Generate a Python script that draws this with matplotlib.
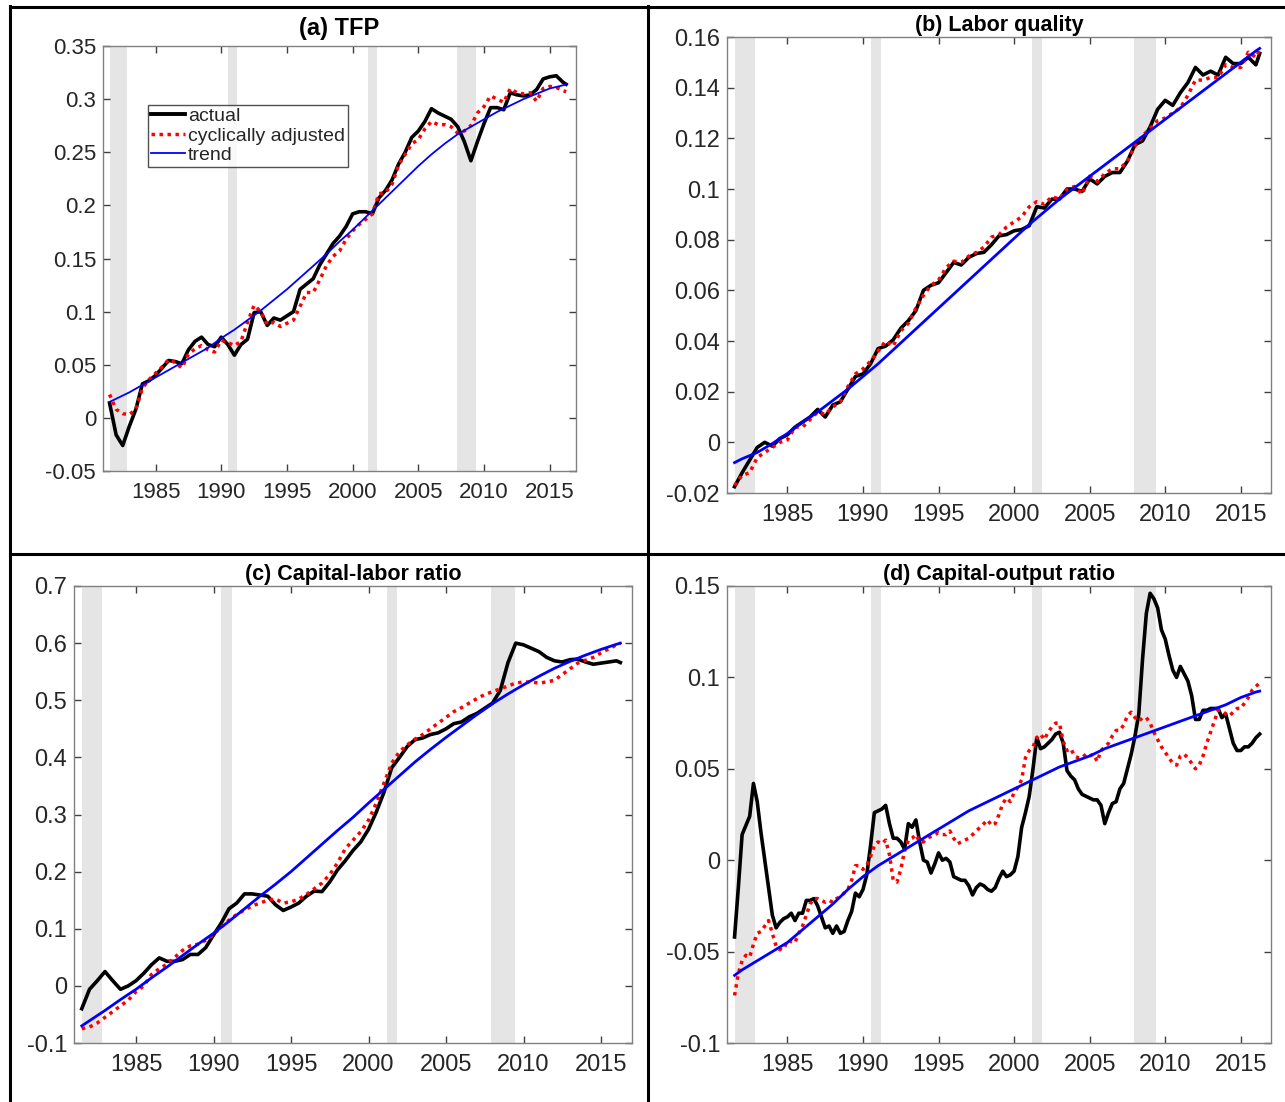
import numpy as np
import matplotlib
matplotlib.use("Agg")
import matplotlib.pyplot as plt
from matplotlib.lines import Line2D
from matplotlib.ticker import FuncFormatter

plt.rcParams["font.family"] = ["Liberation Sans", "DejaVu Sans"]

# semi-annual grid 1981.5 .. 2016.0 plus last obs 2016.25
half_years = np.append(np.arange(1981.5, 2016.01, 0.5), 2016.25)
quarters = np.arange(1981.5, 2016.26, 0.25)
trend_years = np.concatenate([[1981.5], np.arange(1982, 2017), [2016.25]])

recessions = [(1981.5, 1982.83), (1990.5, 1991.17), (2001.17, 2001.83), (2007.92, 2009.42)]

# (a) TFP
tfp_actual = [
    0.014, -0.016, -0.026, -0.008, 0.008, 0.032, 0.035, 0.040, 0.047, 0.054,
    0.053, 0.051, 0.064, 0.072, 0.076, 0.069, 0.067, 0.076, 0.069, 0.059,
    0.069, 0.074, 0.099, 0.100, 0.087, 0.094, 0.092, 0.096, 0.100, 0.121,
    0.126, 0.131, 0.144, 0.154, 0.164, 0.171, 0.180, 0.192, 0.194, 0.194,
    0.192, 0.207, 0.214, 0.224, 0.239, 0.250, 0.264, 0.270, 0.279, 0.291,
    0.287, 0.284, 0.281, 0.274, 0.260, 0.242, 0.260, 0.277, 0.292, 0.292,
    0.290, 0.306, 0.304, 0.303, 0.304, 0.309, 0.319, 0.321, 0.322, 0.316,
    0.314,
]
tfp_adjusted = [
    0.022, 0.008, 0.004, 0.003, 0.008, 0.028, 0.036, 0.042, 0.048, 0.055,
    0.052, 0.047, 0.060, 0.065, 0.068, 0.064, 0.062, 0.073, 0.071, 0.068,
    0.072, 0.090, 0.106, 0.100, 0.088, 0.090, 0.086, 0.089, 0.092, 0.105,
    0.118, 0.118, 0.130, 0.143, 0.152, 0.157, 0.168, 0.176, 0.182, 0.187,
    0.192, 0.211, 0.212, 0.220, 0.238, 0.248, 0.258, 0.262, 0.272, 0.279,
    0.276, 0.276, 0.274, 0.268, 0.270, 0.275, 0.287, 0.293, 0.303, 0.300,
    0.297, 0.310, 0.306, 0.305, 0.306, 0.298, 0.310, 0.312, 0.311, 0.308,
    0.307,
]
tfp_trend = [
    0.015, 0.018, 0.024, 0.031, 0.038, 0.045, 0.052, 0.059, 0.066, 0.075,
    0.083, 0.092, 0.101, 0.111, 0.121, 0.132, 0.143, 0.154, 0.166, 0.177,
    0.189, 0.201, 0.213, 0.225, 0.237, 0.248, 0.258, 0.267, 0.274, 0.281,
    0.288, 0.294, 0.300, 0.305, 0.310, 0.313, 0.314,
]

# (b) Labor quality
labor_actual = [
    -0.0175, -0.012, -0.007, -0.002, 0.000, -0.0015, 0.0015, 0.003, 0.006, 0.008,
    0.010, 0.013, 0.010, 0.0147, 0.016, 0.021, 0.026, 0.027, 0.031, 0.037,
    0.038, 0.0405, 0.045, 0.048, 0.052, 0.060, 0.062, 0.063, 0.067, 0.071,
    0.070, 0.073, 0.0745, 0.075, 0.078, 0.0815, 0.082, 0.0835, 0.084, 0.0855,
    0.093, 0.0925, 0.096, 0.096, 0.100, 0.100, 0.099, 0.104, 0.102, 0.105,
    0.1065, 0.1065, 0.111, 0.1175, 0.119, 0.1245, 0.1315, 0.135, 0.133, 0.138,
    0.142, 0.148, 0.145, 0.1465, 0.145, 0.152, 0.1495, 0.1495, 0.152, 0.149,
    0.1535,
]
labor_adjusted = [
    -0.017, -0.013, -0.012, -0.006, -0.004, -0.002, 0.000, 0.001, 0.006, 0.006,
    0.009, 0.012, 0.011, 0.014, 0.016, 0.022, 0.027, 0.029, 0.032, 0.036,
    0.040, 0.038, 0.044, 0.047, 0.053, 0.058, 0.062, 0.064, 0.069, 0.0715,
    0.071, 0.0735, 0.075, 0.077, 0.081, 0.082, 0.085, 0.087, 0.089, 0.093,
    0.095, 0.094, 0.097, 0.096, 0.100, 0.101, 0.098, 0.105, 0.103, 0.106,
    0.108, 0.108, 0.111, 0.117, 0.121, 0.124, 0.127, 0.128, 0.130, 0.132,
    0.137, 0.143, 0.143, 0.144, 0.144, 0.149, 0.148, 0.148, 0.154, 0.152,
    0.155,
]
labor_trend = [
    -0.008, -0.0065, -0.004, -0.0005, 0.0035, 0.008, 0.012, 0.0165, 0.021, 0.026,
    0.031, 0.0365, 0.042, 0.0475, 0.053, 0.0585, 0.064, 0.0695, 0.075, 0.0805,
    0.086, 0.091, 0.096, 0.1005, 0.105, 0.1095, 0.114, 0.1185, 0.123, 0.1275,
    0.132, 0.1365, 0.141, 0.1455, 0.150, 0.1545, 0.1555,
]

# (c) Capital-labor ratio
kl_actual = [
    -0.040, -0.006, 0.009, 0.025, 0.009, -0.006, 0.000, 0.009, 0.022, 0.037,
    0.049, 0.043, 0.043, 0.046, 0.055, 0.055, 0.067, 0.089, 0.110, 0.135,
    0.145, 0.161, 0.161, 0.159, 0.157, 0.142, 0.132, 0.138, 0.145, 0.157,
    0.166, 0.165, 0.182, 0.203, 0.219, 0.237, 0.252, 0.274, 0.304, 0.339,
    0.382, 0.400, 0.419, 0.431, 0.434, 0.440, 0.443, 0.450, 0.459, 0.462,
    0.471, 0.477, 0.486, 0.495, 0.517, 0.566, 0.600, 0.597, 0.591, 0.585,
    0.575, 0.569, 0.567, 0.571, 0.572, 0.567, 0.563, 0.565, 0.567, 0.569,
    0.566,
]
kl_adjusted = [
    -0.075, -0.072, -0.065, -0.055, -0.045, -0.035, -0.025, -0.010, 0.000, 0.020,
    0.030, 0.038, 0.050, 0.062, 0.070, 0.073, 0.080, 0.090, 0.103, 0.115,
    0.125, 0.133, 0.140, 0.145, 0.150, 0.152, 0.145, 0.147, 0.152, 0.160,
    0.170, 0.180, 0.195, 0.215, 0.240, 0.255, 0.270, 0.290, 0.320, 0.355,
    0.390, 0.410, 0.422, 0.432, 0.440, 0.450, 0.460, 0.470, 0.480, 0.487,
    0.495, 0.503, 0.510, 0.515, 0.520, 0.525, 0.530, 0.532, 0.532, 0.530,
    0.532, 0.535, 0.545, 0.555, 0.565, 0.570, 0.575, 0.583, 0.590, 0.597,
    0.600,
]
kl_trend = [
    -0.070, -0.061, -0.043, -0.024, -0.006, 0.014, 0.033, 0.053, 0.073, 0.092,
    0.113, 0.135, 0.157, 0.178, 0.200, 0.224, 0.248, 0.272, 0.295, 0.320,
    0.344, 0.368, 0.392, 0.414, 0.435, 0.455, 0.475, 0.494, 0.511, 0.527,
    0.542, 0.556, 0.568, 0.579, 0.589, 0.598, 0.600,
]

# (d) Capital-output ratio (quarterly)
ko_actual = [
    -0.042, -0.015,
    0.014, 0.019, 0.024, 0.042,  0.032, 0.015, 0.000, -0.015,
    -0.030, -0.037, -0.034, -0.032,  -0.031, -0.029, -0.033, -0.029,
    -0.029, -0.022, -0.022, -0.021,  -0.025, -0.031, -0.037, -0.036,
    -0.040, -0.036, -0.040, -0.039,  -0.033, -0.028, -0.018, -0.020,
    -0.016, -0.008, 0.008, 0.026,  0.027, 0.028, 0.030, 0.020,
    0.012, 0.012, 0.010, 0.006,  0.020, 0.018, 0.022, 0.010,
    0.000, -0.001, -0.007, -0.002,  0.004, 0.000, 0.001, -0.001,
    -0.009, -0.010, -0.011, -0.011,  -0.014, -0.019, -0.015, -0.013,
    -0.014, -0.016, -0.017, -0.015,  -0.010, -0.006, -0.009, -0.008,
    -0.006, 0.002, 0.018, 0.026,  0.035, 0.050, 0.067, 0.061,
    0.062, 0.064, 0.066, 0.069,  0.070, 0.064, 0.049, 0.046,
    0.044, 0.039, 0.036, 0.035,  0.034, 0.033, 0.033, 0.030,
    0.020, 0.026, 0.031, 0.032,  0.039, 0.042, 0.050, 0.058,
    0.068, 0.080, 0.110, 0.135,  0.146, 0.143, 0.138, 0.126,
    0.121, 0.112, 0.104, 0.100,  0.106, 0.102, 0.098, 0.090,
    0.077, 0.077, 0.082, 0.082,  0.083, 0.083, 0.083, 0.078,
    0.080, 0.072, 0.064, 0.060,  0.060, 0.062, 0.062, 0.064,
    0.067, 0.069,
]
ko_adjusted = [
    -0.074, -0.062,
    -0.055, -0.052, -0.053, -0.046,  -0.040, -0.039, -0.036, -0.033,
    -0.040, -0.047, -0.049, -0.046,  -0.047, -0.044, -0.045, -0.040,
    -0.036, -0.030, -0.024, -0.021,  -0.021, -0.022, -0.023, -0.022,
    -0.023, -0.021, -0.020, -0.018,  -0.016, -0.011, -0.003, -0.003,
    -0.005, -0.003, 0.002, 0.008,  0.010, 0.009, 0.011, 0.003,
    -0.011, -0.012, -0.005, 0.005,  0.011, 0.012, 0.014, 0.010,
    0.010, 0.012, 0.013, 0.014,  0.015, 0.014, 0.014, 0.016,
    0.012, 0.009, 0.010, 0.011,  0.012, 0.014, 0.016, 0.018,
    0.020, 0.022, 0.019, 0.020,  0.025, 0.031, 0.034, 0.032,
    0.037, 0.040, 0.044, 0.056,  0.060, 0.062, 0.067, 0.069,
    0.066, 0.070, 0.073, 0.075,  0.075, 0.065, 0.060, 0.061,
    0.057, 0.056, 0.056, 0.058,  0.057, 0.058, 0.054, 0.060,
    0.062, 0.064, 0.068, 0.071,  0.071, 0.074, 0.079, 0.081,
    0.078, 0.076, 0.078, 0.078,  0.075, 0.070, 0.066, 0.062,
    0.059, 0.056, 0.053, 0.052,  0.057, 0.058, 0.056, 0.053,
    0.050, 0.052, 0.057, 0.064,  0.070, 0.076, 0.082, 0.082,
    0.080, 0.079, 0.081, 0.083,  0.083, 0.086, 0.089, 0.093,
    0.095, 0.097,
]
ko_trend = [
    -0.063, -0.060, -0.055, -0.050, -0.045, -0.038, -0.031, -0.024, -0.016, -0.009,
    -0.003, 0.002, 0.007, 0.012, 0.017, 0.022, 0.027, 0.031, 0.035, 0.039,
    0.043, 0.047, 0.051, 0.054, 0.057, 0.061, 0.064, 0.067, 0.070, 0.073,
    0.076, 0.079, 0.082, 0.085, 0.089, 0.092, 0.0925,
]

W, H = 1285, 1102
fig = plt.figure(figsize=(W / 100, H / 100), dpi=100)


def px_axes(left, top, right, bottom):
    return fig.add_axes([left / W, 1 - bottom / H, (right - left) / W, (bottom - top) / H])


def style_axes(ax, ylim, yticks, fs):
    ax.set_xlim(1981, 2017)
    ax.set_ylim(*ylim)
    ax.set_xticks(range(1985, 2016, 5))
    ax.set_yticks(yticks)
    ax.yaxis.set_major_formatter(FuncFormatter(lambda v, p: f"{round(v, 4):g}"))
    for sp in ax.spines.values():
        sp.set_color("#808080")
        sp.set_linewidth(1.0)
    ax.tick_params(direction="in", length=5, width=1, color="#404040",
                   top=True, right=True, labelsize=fs, labelcolor="#262626")
    ax.tick_params(axis="x", pad=8)
    ax.tick_params(axis="y", pad=5)
    for a, b in recessions:
        ax.axvspan(a, b, color="#e5e5e5", lw=0, zorder=0)


panels = [
    (px_axes(103, 46, 576, 471), "(a) TFP", tfp_actual, tfp_adjusted, tfp_trend, half_years, half_years,
     (-0.05, 0.35), np.arange(-0.05, 0.351, 0.05), 16, 17, 1.3, 8),
    (px_axes(727, 37, 1271, 493), "(b) Labor quality", labor_actual, labor_adjusted, labor_trend,
     half_years, half_years, (-0.02, 0.16), np.arange(-0.02, 0.161, 0.02), 17, 15.5, 2.0, 4),
    (px_axes(74, 586, 632, 1043), "(c) Capital-labor ratio", kl_actual, kl_adjusted, kl_trend,
     half_years, half_years, (-0.1, 0.7), np.arange(-0.1, 0.71, 0.1), 17, 15.5, 2.0, 4),
    (px_axes(727, 586, 1271, 1043), "(d) Capital-output ratio", ko_actual, ko_adjusted, ko_trend,
     quarters, quarters, (-0.1, 0.15), np.arange(-0.1, 0.151, 0.05), 17, 15.5, 2.0, 4),
]

for ax, title, actual, adjusted, trend, xa, xb, ylim, yticks, fs, tfs, tlw, tpad in panels:
    style_axes(ax, ylim, yticks, fs)
    ax.plot(xa, actual, color="black", lw=2.6, zorder=3, solid_joinstyle="round")
    ax.plot(xb, adjusted, color="red", lw=2.5, linestyle=(0, (1, 1.3)), zorder=4)
    ax.plot(trend_years, trend, color="blue", lw=tlw, zorder=5)
    ax.set_title(title, fontsize=tfs, fontweight="bold", pad=tpad)

ax_a = panels[0][0]
handles = [
    Line2D([], [], color="black", lw=2.8),
    Line2D([], [], color="red", lw=2.5, linestyle=(0, (1, 1.3))),
    Line2D([], [], color="blue", lw=1.3),
]
leg = ax_a.legend(handles, ["actual", "cyclically adjusted", "trend"], loc="upper left",
                  bbox_to_anchor=(0.095, 0.862), fontsize=14, frameon=True, fancybox=False,
                  handlelength=1.75, handletextpad=0.15, labelspacing=0.1, borderpad=0.15,
                  borderaxespad=0)
leg.get_frame().set_edgecolor("#262626")
leg.get_frame().set_linewidth(1.0)
for t in leg.get_texts():
    t.set_color("#262626")

# table-like frame lines around the panels
frame_lines = [
    ((10, 1285), (6.5, 6.5)),
    ((10, 10), (6, 1102)),
    ((648, 648), (6, 1102)),
    ((10, 1285), (554, 554)),
]
for xs, ys in frame_lines:
    fig.add_artist(Line2D([x / W for x in xs], [1 - y / H for y in ys], color="black", lw=2.2,
                          transform=fig.transFigure))

fig.savefig("out.png", dpi=100)
